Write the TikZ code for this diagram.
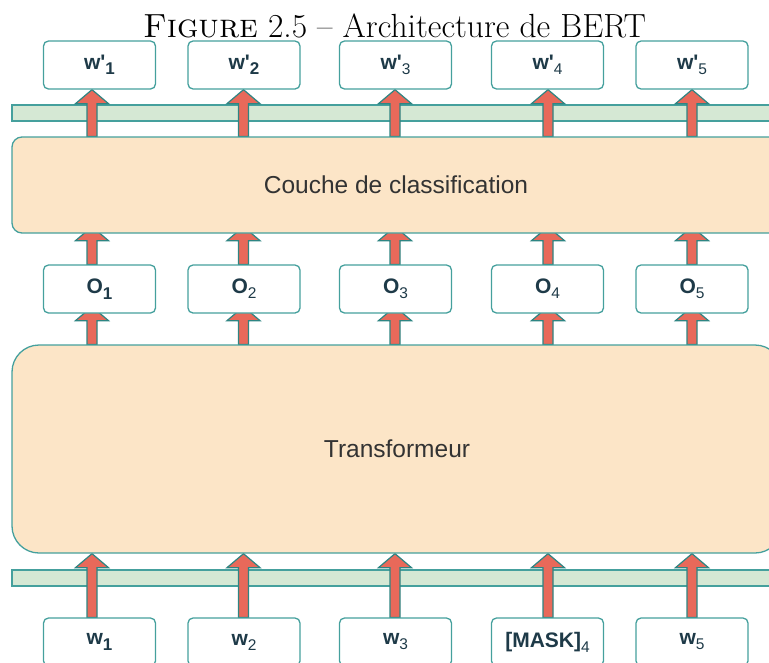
\documentclass[tikz,border=0pt]{standalone}
\usepackage{fontspec}
\newfontfamily\lab{Liberation Sans}
\usetikzlibrary{calc}
\pgfdeclarelayer{bg}
\pgfdeclarelayer{mid}
\pgfsetlayers{bg,mid,main}
\definecolor{boxc}{HTML}{45A09D}
\definecolor{arrc}{HTML}{2E8583}
\definecolor{arrf}{HTML}{E8695A}
\definecolor{peach}{HTML}{FCE5C7}
\definecolor{lgreen}{HTML}{D5E8D4}
\definecolor{labc}{HTML}{1E3A48}
\definecolor{txtc}{HTML}{333333}
\newcommand\sbb[1]{\raisebox{-5.5pt}{\fontsize{17}{17}\selectfont\bfseries #1}}
\newcommand\sbn[1]{\raisebox{-5pt}{\fontsize{15.5}{15.5}\selectfont\mdseries #1}}
\newcommand\fatarrow[3]{%
\draw[fatarr] let \p1=(#1),\p2=(#2) in
 (\x1-5pt,\y1) -- (\x1-5pt,\y2-14pt+#3) -- (\x1-16.5pt,\y2-14pt+#3) -- (\x1,\y2+#3)
 -- (\x1+16.5pt,\y2-14pt+#3) -- (\x1+5pt,\y2-14pt+#3) -- (\x1+5pt,\y1) -- cycle;}
\begin{document}
\begin{tikzpicture}[x=1pt,y=-1pt,
  tok/.style={draw=boxc, line width=1.3pt, fill=white, rounded corners=5pt,
    minimum width=112pt, minimum height=48pt, inner sep=0pt,
    font=\lab\bfseries\fontsize{21}{21}\selectfont, text=labc},
  bigbox/.style={draw=boxc, line width=1.3pt, fill=peach, inner sep=0pt,
    font=\lab\fontsize{24.5}{24.5}\selectfont, text=txtc},
  bar/.style={draw=boxc, line width=1.3pt, fill=lgreen, inner sep=0pt,
    minimum width=768pt, minimum height=16pt},
  fatarr/.style={draw=arrc, line width=1.2pt, fill=arrf, line join=miter}]
\useasboundingbox (0,0) rectangle (769,662);
\clip (0,0) rectangle (769,662);
% title
\node[anchor=base, inner sep=0pt, font=\fontsize{33.5}{34}\selectfont] (title) at (394.5,37)
  {\textsc{Figure} 2.5 -- Architecture de BERT};
% column coordinates for arrows
\coordinate (k1) at (92,0);
\coordinate (k2) at (243.5,0);
\coordinate (k3) at (395,0);
\coordinate (k4) at (548,0);
\coordinate (k5) at (692,0);
% top output tokens
\node[tok] (p1) at (99.5,65) {w\textquotesingle\sbb{1}};
\node[tok] (p2) at (244,65) {w\textquotesingle\sbb{2}};
\node[tok] (p3) at (395.5,65) {w\textquotesingle\sbn{3}};
\node[tok] (p4) at (547.5,65) {w\textquotesingle\sbn{4}};
\node[tok] (p5) at (692,65) {w\textquotesingle\sbn{5}};
% classification layer
\node[bigbox, rounded corners=10pt, minimum width=768pt, minimum height=96pt] (cls) at (396,185)
  {Couche de classification};
% O boxes
\node[tok] (o1) at (99.5,289) {O\sbb{1}};
\node[tok] (o2) at (244,289) {O\sbn{2}};
\node[tok] (o3) at (395.5,289) {O\sbn{3}};
\node[tok] (o4) at (547.5,289) {O\sbn{4}};
\node[tok] (o5) at (692,289) {O\sbn{5}};
% transformer
\node[bigbox, rounded corners=27pt, minimum width=770pt, minimum height=208pt] (tr) at (397,449)
  {Transformeur};
% input tokens
\node[tok] (w1) at (99.5,642) {w\sbb{1}};
\node[tok] (w2) at (244,642) {w\sbn{2}};
\node[tok] (w3) at (395.5,642) {w\sbn{3}};
\node[tok] (w4) at (547.5,642) {[MASK]\sbn{4}};
\node[tok] (w5) at (692,642) {w\sbn{5}};
% green bars
\begin{pgfonlayer}{bg}
\node[bar] (g1) at (396,113) {};
\node[bar] (g2) at (396,578) {};
\end{pgfonlayer}
% arrows
\begin{pgfonlayer}{mid}
\foreach \i in {1,...,5}{
  \fatarrow{cls.north -| k\i}{p\i.south -| k\i}{0pt}
  \fatarrow{o\i.north -| k\i}{cls.south -| k\i}{7pt}
  \fatarrow{tr.north -| k\i}{o\i.south -| k\i}{7pt}
  \fatarrow{w\i.north -| k\i}{tr.south -| k\i}{0pt}
}
\end{pgfonlayer}
\end{tikzpicture}
\end{document}
